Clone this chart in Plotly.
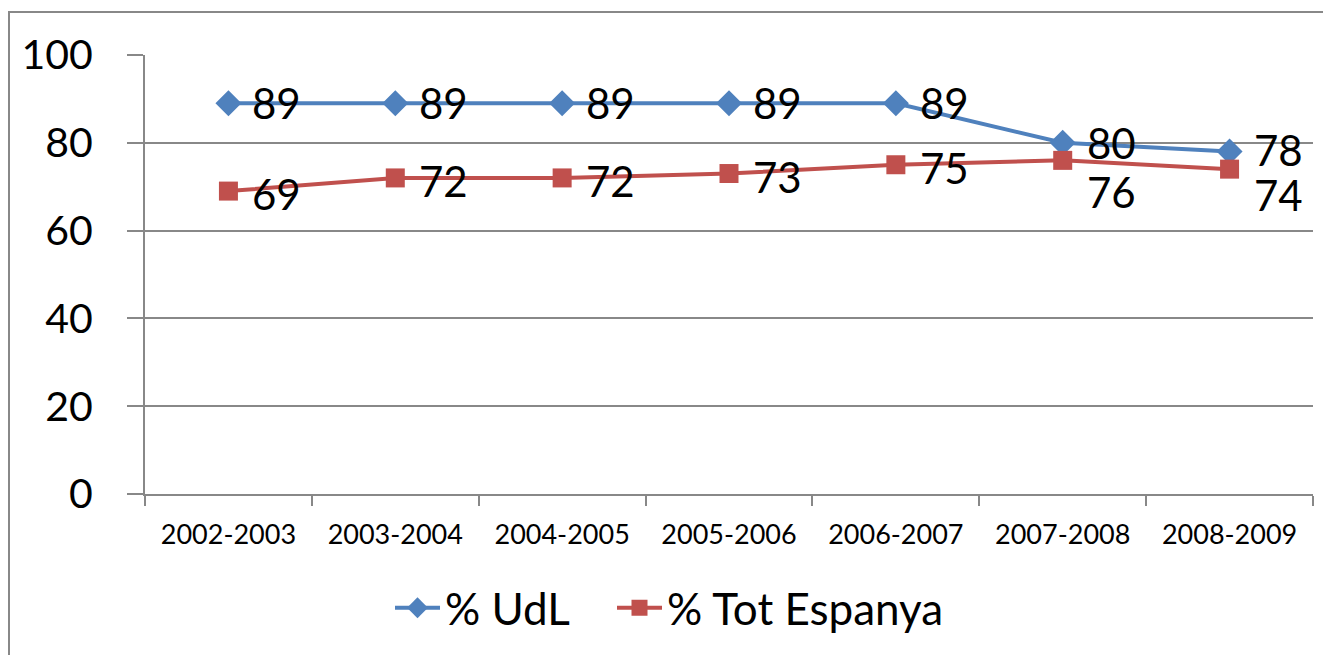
import plotly.graph_objects as go

cursos = ["2002-2003", "2003-2004", "2004-2005", "2005-2006", "2006-2007", "2007-2008", "2008-2009"]
udl = [89, 89, 89, 89, 89, 80, 78]
espanya = [69, 72, 72, 73, 75, 76, 74]

blau = "#4F81BD"
vermell = "#C0504D"
gris = "#888888"
font = "Lato, Liberation Sans, sans-serif"

fig = go.Figure()
fig.add_trace(go.Scatter(x=cursos, y=udl, name="% UdL", mode="lines+markers",
                         line=dict(color=blau, width=4),
                         marker=dict(symbol="diamond", size=20, color=blau),
                         legend="legend"))
fig.add_trace(go.Scatter(x=cursos, y=espanya, name="% Tot Espanya", mode="lines+markers",
                         line=dict(color=vermell, width=4),
                         marker=dict(symbol="square", size=19, color=vermell),
                         legend="legend2"))

# etiquetes de dades (a la dreta del punt; 76 i 74 desplaçades avall)
pujar = [0, 0, 0, 0, 0, 0, 2]
for i, v in enumerate(udl):
    fig.add_annotation(x=cursos[i], y=v, text=str(v), showarrow=False,
                       xanchor="left", xshift=22, yshift=pujar[i],
                       font=dict(size=42, color="black", family=font))
desp = [-3, -3, -3, -3, -3, -32, -26]
for i, v in enumerate(espanya):
    fig.add_annotation(x=cursos[i], y=v, text=str(v), showarrow=False,
                       xanchor="left", xshift=22, yshift=desp[i],
                       font=dict(size=42, color="black", family=font))

# marc del gràfic
fig.add_shape(type="rect", xref="paper", yref="paper",
              x0=(1 - 137) / 1168, x1=(1345 - 137) / 1168,
              y0=(486 - 670) / 439, y1=(486 - 4) / 439,
              line=dict(color=gris, width=2), fillcolor="rgba(0,0,0,0)")

llegenda = dict(orientation="h", y=-0.26, yanchor="middle", xanchor="left",
                font=dict(size=44), itemwidth=45, bgcolor="rgba(0,0,0,0)")

fig.update_layout(
    width=1331, height=655,
    margin=dict(l=137, r=26, t=47, b=169, autoexpand=False),
    paper_bgcolor="white", plot_bgcolor="white",
    font=dict(family=font, color="black"),
    showlegend=True,
    legend=dict(llegenda, x=(390 - 145) / 1168),
    legend2=dict(llegenda, x=(612 - 145) / 1168),
)
fig.update_xaxes(type="category", range=[-0.5, 6.5], tickson="boundaries",
                 ticks="outside", ticklen=10, tickcolor=gris, tickwidth=2,
                 showline=True, linecolor=gris, linewidth=2, showgrid=False,
                 tickfont=dict(size=27), ticklabelstandoff=16, automargin=False)
fig.update_yaxes(range=[0, 100], dtick=20, ticks="outside", ticklen=16, tickcolor=gris, tickwidth=2,
                 showline=True, linecolor=gris, linewidth=2,
                 showgrid=True, gridcolor=gris, gridwidth=2, zeroline=False,
                 tickfont=dict(size=41), ticklabelstandoff=26, automargin=False)

fig.write_html("out.html")
